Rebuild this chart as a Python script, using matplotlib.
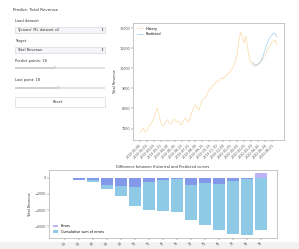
import numpy as np
import matplotlib
matplotlib.use('Agg')
import matplotlib.pyplot as plt
from matplotlib.patches import FancyBboxPatch, Rectangle

# History of the target
history = [6780, 6925, 7025, 6825, 6875, 7075, 7175, 7325, 7525, 7775,
           8025, 7675, 7325, 7125, 7175, 7375, 7425, 7275, 7225, 7375,
           7475, 7325, 7375, 7275, 7175, 7375, 7525, 7425, 7325, 7575,
           7825, 8025, 8175, 8025, 7925, 8225, 8425, 8475, 8575, 8775,
           8925, 9025, 9125, 9225, 9325, 9375, 9425, 9525, 9475, 9575,
           9675, 9725, 9825, 9975, 10125, 10375, 10675, 11400, 11800, 11500,
           11250, 11600, 11000, 10500, 10300, 10200, 10100, 10150, 10200, 10300,
           10400, 10500, 10650, 10850, 11000, 11150, 11300, 11350, 11400, 11150]
# Predicted values for the last points
predicted = [10300, 10150, 10150, 10200, 10250, 10400, 10650, 10900, 11150,
             11400, 11550, 11650, 11750, 11700, 11550]
date_labels = ['2019-01-06', '2019-02-03', '2019-03-03', '2019-03-31', '2019-04-28',
               '2019-05-26', '2019-06-23', '2019-07-21', '2019-08-18', '2019-09-15',
               '2019-10-13', '2019-11-10', '2019-12-08', '2020-01-05', '2020-02-02',
               '2020-03-01', '2020-03-29', '2020-04-26', '2020-05-24', '2020-06-21']

# Difference chart
errors = [0, -250, -250, -850, -950, -1150, -500, -200, -150, -900,
          -650, -700, -400, -150, 600]
cum_errors = [0, -250, -500, -1350, -2300, -3450, -3950, -4150, -4300, -5200,
              -5850, -6550, -6950, -7100, -6500]
point_labels = ['65', '66', '67', '68', '69', '70', '71', '72', '73', '74',
                '75', '76', '77', '78', '79']

W, H = 299, 249
fig = plt.figure(figsize=(W / 100, H / 100), dpi=100)
fig.patch.set_facecolor('white')


def fx(x):
    return x / W


def fy(y):
    return 1 - y / H


fs = 2.6
txt = '#333333'

# ---- sidebar widgets ----
fig.text(fx(13), fy(10), 'Predict: Total Revenue', fontsize=2.9, color=txt, va='center')

fig.text(fx(15), fy(21), 'Load dataset', fontsize=fs, color=txt, va='center')
fig.patches.append(FancyBboxPatch((fx(15), fy(33)), fx(90), 6 / H, boxstyle='square,pad=0',
                                  transform=fig.transFigure, facecolor='#f4f5f8',
                                  edgecolor='#d0d0d0', linewidth=0.4))
fig.text(fx(17), fy(30), "Tycoons' ML dataset v2", fontsize=fs, color=txt, va='center')
fig.text(fx(102), fy(30), '\u21d5', fontsize=fs, color=txt, va='center', ha='center')

fig.text(fx(15), fy(41), 'Target', fontsize=fs, color=txt, va='center')
fig.patches.append(FancyBboxPatch((fx(15), fy(53)), fx(90), 6 / H, boxstyle='square,pad=0',
                                  transform=fig.transFigure, facecolor='#f4f5f8',
                                  edgecolor='#d0d0d0', linewidth=0.4))
fig.text(fx(17), fy(50), 'Total Revenue', fontsize=fs, color=txt, va='center')
fig.text(fx(102), fy(50), '\u21d5', fontsize=fs, color=txt, va='center', ha='center')

fig.text(fx(15), fy(61), 'Predict points: 18', fontsize=fs, color=txt, va='center')
fig.patches.append(Rectangle((fx(15), fy(69)), fx(90), 1.5 / H, transform=fig.transFigure,
                             facecolor='#e2e2e2', edgecolor='none'))
fig.patches.append(Rectangle((fx(15), fy(69)), fx(40), 1.5 / H, transform=fig.transFigure,
                             facecolor='#cfcfcf', edgecolor='none'))
fig.text(fx(55), fy(68.2), '\u25cf', fontsize=3.2, color='#d8d8d8', ha='center', va='center')

fig.text(fx(15), fy(80), 'Last point: 18', fontsize=fs, color=txt, va='center')
fig.patches.append(Rectangle((fx(15), fy(89)), fx(90), 1.5 / H, transform=fig.transFigure,
                             facecolor='#e2e2e2', edgecolor='none'))
fig.patches.append(Rectangle((fx(15), fy(89)), fx(43), 1.5 / H, transform=fig.transFigure,
                             facecolor='#cfcfcf', edgecolor='none'))
fig.text(fx(58), fy(88.2), '\u25cf', fontsize=3.2, color='#d8d8d8', ha='center', va='center')

fig.patches.append(FancyBboxPatch((fx(15), fy(107)), fx(90), 10 / H, boxstyle='square,pad=0',
                                  transform=fig.transFigure, facecolor='white',
                                  edgecolor='#d0d0d0', linewidth=0.4))
fig.text(fx(58), fy(102), 'Reset', fontsize=fs, color=txt, va='center', ha='center')

# bottom grey strip of the page
fig.patches.append(Rectangle((0, 0), 1, 7 / H, transform=fig.transFigure,
                             facecolor='#f2f2f2', edgecolor='none', zorder=-5))

# ---- top chart: history vs predicted ----
ax1 = fig.add_axes([fx(133), fy(140), fx(151), 117 / H])
x_hist = np.arange(len(history))
x_pred = np.arange(len(history) - len(predicted), len(history))
ax1.plot(x_hist, history, color='#f5b041', alpha=0.4, linewidth=0.6, label='History')
ax1.plot(x_pred, predicted, color='#5dade2', alpha=0.5, linewidth=0.6, label='Predicted')
ax1.set_xticks(np.arange(0, len(history), 4))
ax1.set_xticklabels(date_labels, rotation=45, ha='right', rotation_mode='anchor')
ax1.set_yticks([7000, 8000, 9000, 10000, 11000, 12000])
ax1.set_ylim(6430, 12250)
ax1.set_ylabel('Total Revenue', fontsize=2.4, labelpad=2, color=txt)
ax1.tick_params(labelsize=2.4, length=1.2, width=0.3, pad=1, colors='#555555')
ax1.legend(loc='upper left', fontsize=2.4, handlelength=2, frameon=False, borderpad=0.6)
for s in ax1.spines.values():
    s.set_linewidth(0.5)
    s.set_color('#b0b0b0')

# ---- bottom chart: differences ----
ax2 = fig.add_axes([fx(49), fy(238), fx(228), 68 / H])
xb = np.arange(len(errors))
ax2.bar(xb, cum_errors, width=0.8, color='#8ecae6', label='Cumulative sum of errors')
ax2.bar(xb, errors, width=0.8, color='#7b68ee', alpha=0.5, label='Errors')
ax2.set_xticks(xb)
ax2.set_xticklabels(point_labels, rotation=45, ha='right', rotation_mode='anchor')
ax2.set_yticks([0, -2000, -4000, -6000])
ax2.set_title('Difference between Historical and Predicted curves', fontsize=2.6,
              pad=1.5, color=txt)
ax2.set_ylabel('Total Revenue', fontsize=2.4, labelpad=2, color=txt)
ax2.tick_params(labelsize=2.4, length=1.2, width=0.3, pad=1, colors='#555555')
h, l = ax2.get_legend_handles_labels()
ax2.legend(h[::-1], l[::-1], loc='lower left', fontsize=2.4, frameon=False,
           handlelength=1.5, borderpad=0.8)
for s in ax2.spines.values():
    s.set_linewidth(0.5)
    s.set_color('#b0b0b0')

fig.savefig('out.png', dpi=100, facecolor='white')
